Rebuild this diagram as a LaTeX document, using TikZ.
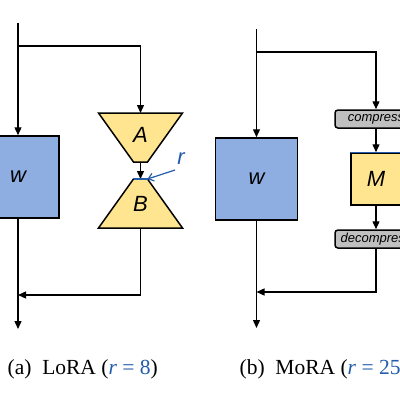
\documentclass[tikz,border=0pt]{standalone}
\usepackage{fontspec}
\setmainfont{Liberation Serif}
\newfontfamily\labelfont{Liberation Sans}
\usetikzlibrary{arrows.meta}
\definecolor{wfill}{RGB}{142,174,226}
\definecolor{lowfill}{RGB}{255,229,143}
\definecolor{codecfill}{RGB}{192,192,192}
\definecolor{rblue}{RGB}{34,92,170}
\begin{document}
\begin{tikzpicture}[x=1pt,y=-1pt,line width=1.3pt,>={Triangle[length=8pt,width=7pt]}]
        % Styles
        \tikzstyle{wbox}=[draw,line width=1.5pt,fill=wfill,minimum size=82pt,inner sep=0pt,font=\labelfont\itshape\fontsize{22}{26}\selectfont]
        \tikzstyle{lowrank}=[draw,line width=1.5pt,fill=lowfill,line join=miter]
        \tikzstyle{letter}=[inner sep=0pt,font=\labelfont\itshape\fontsize{22}{26}\selectfont]
        \tikzstyle{mbox}=[draw,line width=1.5pt,fill=lowfill,minimum width=50pt,minimum height=52pt,inner sep=0pt,font=\labelfont\itshape\fontsize{22}{26}\selectfont]
        \tikzstyle{codec}=[draw,line width=1.5pt,fill=codecfill,rounded corners=3pt,minimum width=82pt,minimum height=18pt,inner sep=0pt,font=\labelfont\itshape\fontsize{13}{15}\selectfont]
        \tikzstyle{caption}=[anchor=west,inner sep=0pt,font=\fontsize{21.5}{25}\selectfont]
        \clip (0,0) rectangle (400,400);
        %(a) LoRA
        \coordinate (inA) at (18,23);
        \coordinate (forkA) at (18,46);
        \node[wbox] (WA) at (18,177) {w};
        %low rank pair
        \draw[lowrank] (98.5,113) coordinate(Atl) -- (182.5,113) -- (147.5,162) -- (133.5,162) -- cycle;
        \draw[lowrank] (133.5,179) coordinate(Btl) -- (147.5,179) coordinate(Btr) -- (182.5,228) -- (98.5,228) -- cycle;
        \coordinate (Atop) at (140.5,113);
        \coordinate (Abot) at (140.5,162);
        \coordinate (Btop) at (140.5,179);
        \coordinate (Bbot) at (140.5,228);
        \node[letter] (A) at (140.5,135) {A};
        \node[letter] (B) at (140.5,204) {B};
        \coordinate (joinA) at (18,295);
        \coordinate (outA) at (18,329);
        \draw[->] (inA) -- (WA.north);
        \draw[->] (forkA) -| (Atop);
        \draw[->] (Abot) -- (Btop);
        \draw[->] (Bbot) |- (joinA);
        \draw[->] (WA.south) -- (outA);
        %rank
        \draw[rblue,line width=1.5pt] (Btl) -- (Btr);
        \node[letter,text=rblue] (rA) at (181,159) {r};
        \coordinate (rtail) at (175,170);
        \draw[rblue,line width=1.2pt,->,>={Straight Barb[length=5pt,width=8pt]}] (rtail) -- (Btr);
        %(b) MoRA
        \coordinate (inM) at (256.5,29);
        \coordinate (forkM) at (256.5,52);
        \node[wbox] (WM) at (256.5,179) {w};
        \node[codec] (cmp) at (376,119) {compress};
        \node[mbox] (M) at (376,179) {M};
        \node[codec] (dcmp) at (376,239) {decompress};
        \coordinate (joinM) at (256.5,292);
        \coordinate (outM) at (256.5,328);
        \draw[->] (inM) -- (WM.north);
        \draw[->] (forkM) -| (cmp.north);
        \draw[->] (cmp.south) -- (M.north);
        \draw[->] (M.south) -- (dcmp.north);
        \draw[->] (dcmp.south) |- (joinM);
        \draw[->] (WM.south) -- (outM);
        \draw[rblue,line width=0.8pt] (M.north west) -- (M.north east);
        %captions
        \node[caption] (capA) at (7,369) {(a)\enspace LoRA ({\color{rblue}\textit{r} = 8})};
        \node[caption] (capM) at (239,369) {(b)\enspace MoRA ({\color{rblue}\textit{r} = 256})};
    \end{tikzpicture}
\end{document}
